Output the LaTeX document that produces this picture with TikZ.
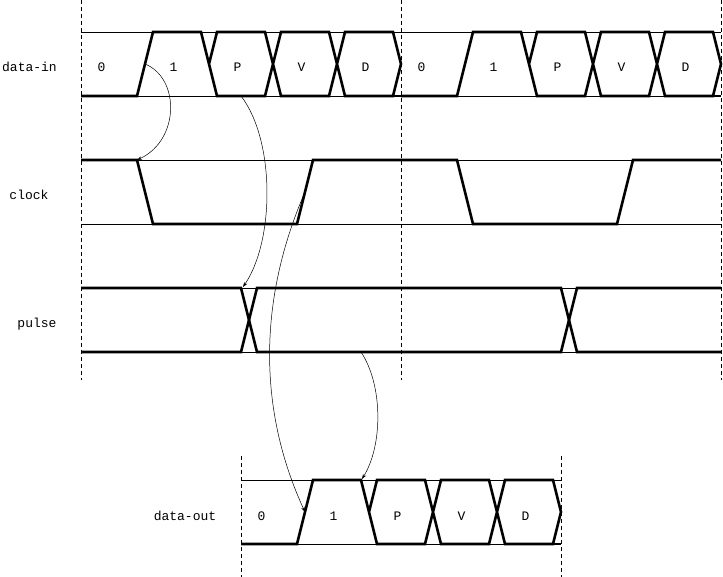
\documentclass[tikz,border=0pt]{standalone}
\usepackage{fontspec}
\setmonofont{Liberation Mono}
\usetikzlibrary{arrows.meta}
\begin{document}
\begin{tikzpicture}[x=1pt,y=-1pt,
  rail/.style={line width=0.6pt},
  wave/.style={line width=2.6pt,line join=miter},
  guide/.style={line width=0.7pt,dash pattern=on 4pt off 3pt},
  lbl/.style={font=\ttfamily\fontsize{13}{15}\selectfont,anchor=base,inner sep=0pt},
  link/.style={line width=0.5pt,-{Stealth[length=5pt,width=3.5pt]}}]
\useasboundingbox (0,0) rectangle (723,577);
% guides
\foreach \x in {81,401,721} \draw[guide] (\x,0) -- (\x,380);
\foreach \x in {241,561} \draw[guide] (\x,456) -- (\x,577);
% rails
\foreach \y in {32,96,160,224,288,352} \draw[rail] (81,\y) -- (721,\y);
\foreach \y in {480,544} \draw[rail] (241,\y) -- (561,\y);
% data waveforms (data-in twice, data-out once)
\foreach \a/\t in {81/32,401/32,241/480}{
  \pgfmathsetmacro{\b}{\t+64}
  \pgfmathsetmacro{\m}{\t+32}
  \draw[wave] (\a,\b) -- (\a+56,\b) -- (\a+72,\t) -- (\a+120,\t) -- (\a+136,\b) -- (\a+184,\b) -- (\a+200,\t) -- (\a+248,\t) -- (\a+264,\b) -- (\a+312,\b) -- (\a+320,\m) -- (\a+312,\t) -- (\a+264,\t) -- (\a+248,\b) -- (\a+200,\b) -- (\a+184,\t) -- (\a+136,\t) -- (\a+128,\m);
  \draw[wave] (\a+312,\b) -- (\a+320,\b);
}
% clock
\draw[wave] (81,160) -- (137,160) -- (153,224) -- (297,224) -- (313,160) -- (457,160) -- (473,224) -- (617,224) -- (633,160) -- (721,160);
% pulse
\draw[wave] (81,288) -- (241,288) -- (257,352) -- (561,352) -- (577,288) -- (721,288);
\draw[wave] (81,352) -- (241,352) -- (257,288) -- (561,288) -- (577,352) -- (721,352);
% row labels
\node[lbl] (ldin) at (29.5,72) {data-in};
\node[lbl] (lclk) at (29,200) {clock};
\node[lbl] (lpul) at (37,328) {pulse};
\node[lbl] (ldout) at (185,520) {data-out};
% value labels
\foreach \a/\y/\n in {81/72/i,401/72/j,241/520/o}{
  \node[lbl] (\n0) at (\a+20.5,\y) {0};
  \node[lbl] (\n1) at (\a+92.5,\y) {1};
  \node[lbl] (\n2) at (\a+156.5,\y) {P};
  \node[lbl] (\n3) at (\a+220.5,\y) {V};
  \node[lbl] (\n4) at (\a+284.5,\y) {D};
}
% connector end points
\coordinate (dinrise) at (145,64);
\coordinate (clkfall) at (137,160);
\coordinate (dinP) at (241,96);
\coordinate (pulX) at (243,287);
\coordinate (clkrise) at (305,192);
\coordinate (doutrise) at (305,512);
\coordinate (pullow) at (361,352);
\coordinate (douthigh) at (362,479);
% connectors
\draw[link] (dinrise) .. controls (180,78) and (180,140) .. (clkfall);
\draw[link] (dinP) .. controls (275,140) and (275,240) .. (pulX);
\draw[link] (clkrise) .. controls (258,300) and (258,410) .. (doutrise);
\draw[link] (pullow) .. controls (383,385) and (383,445) .. (douthigh);
\end{tikzpicture}
\end{document}
